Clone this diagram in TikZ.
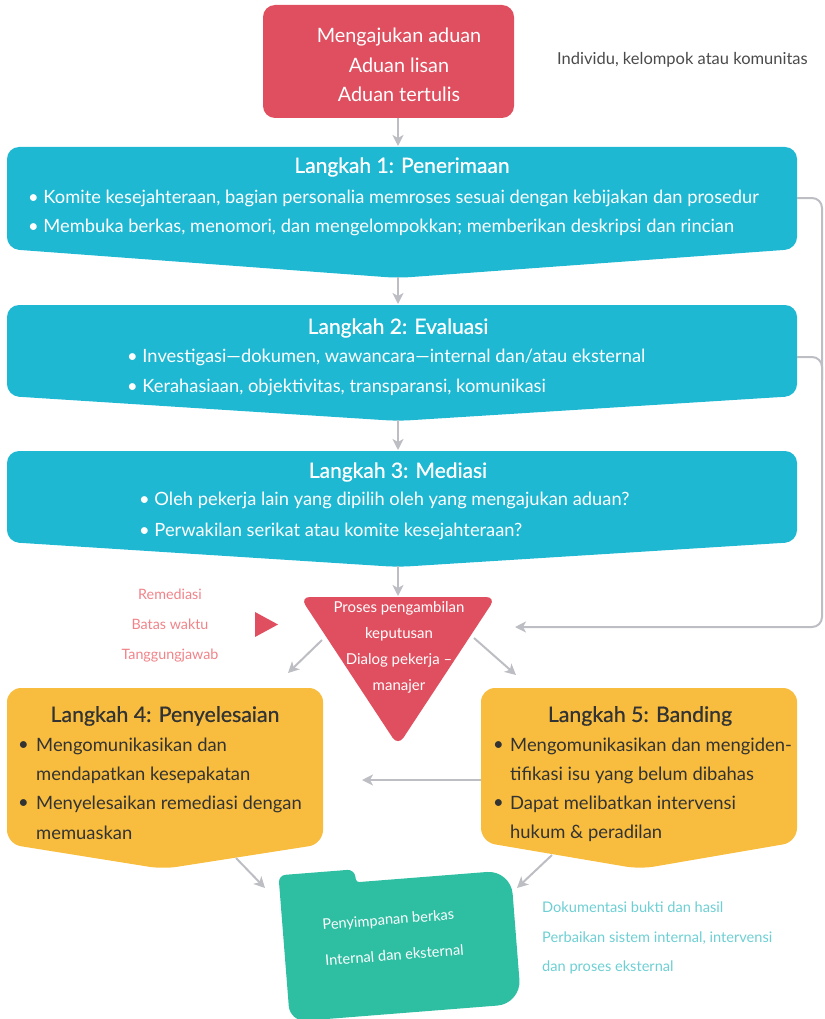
\documentclass[tikz,border=0pt]{standalone}
\usepackage{fontspec}
\setmainfont{Lato}
\newfontfamily\titlefont[FakeBold=0.7]{Lato}
\usetikzlibrary{arrows.meta}
\definecolor{cred}{HTML}{E04F5F}
\definecolor{cblue}{HTML}{1EB8D3}
\definecolor{cyellow}{HTML}{F8BD3E}
\definecolor{cgreen}{HTML}{2EBEA2}
\definecolor{cgray}{HTML}{BDBEC3}
\definecolor{cpink}{HTML}{F08389}
\definecolor{ccyan}{HTML}{6DCFD3}
\definecolor{cdark}{HTML}{333333}
\definecolor{cnote}{HTML}{4A4A4A}
\tikzset{
  flow/.style={draw=cgray, line width=2pt, -{Stealth[length=11pt,width=11pt,inset=3pt]}},
  link/.style={draw=cgray, line width=2pt},
  wtitle/.style={text=white, font=\titlefont\fontsize{21}{24}\selectfont, inner sep=0pt},
  wbul/.style={text=white, font=\fontsize{18.3}{21}\selectfont, inner sep=0pt, anchor=west},
  dtitle/.style={text=cdark, font=\titlefont\fontsize{21.3}{24}\selectfont, inner sep=0pt},
  dbul/.style={text=cdark, font=\fontsize{18.4}{21}\selectfont, inner sep=0pt, anchor=west},
  small/.style={inner sep=0pt, font=\fontsize{14}{16}\selectfont},
}
\begin{document}
\begin{tikzpicture}[x=1pt,y=-1pt]
\useasboundingbox (0,0) rectangle (824,1019);

% top red box
\fill[cred, rounded corners=12pt] (263,5) rectangle (514,118);
\node[text=white, inner sep=0pt, align=center, font=\fontsize{19.8}{29.5}\selectfont] (top) at (399,65) {Mengajukan aduan\\Aduan lisan\\Aduan tertulis};
\coordinate (topb) at (398,118);
\node[small, text=cnote, anchor=west, font=\fontsize{16.5}{18}\selectfont] (who) at (557,60) {Individu, kelompok atau komunitas};

% Step 1
\fill[cblue, rounded corners=12pt] (400,147) -- (797,147) -- (797,249) -- (398,278) -- (7,249) -- (7,147) -- cycle;
\coordinate (b1top) at (398,146);
\coordinate (b1tip) at (398,277);
\coordinate (b1r) at (797,198);
\node[wtitle] (b1t) at (402,167) {Langkah 1: Penerimaan};
\node[wbul] (b1a) at (28,198) {• Komite kesejahteraan, bagian personalia memroses sesuai dengan kebijakan dan prosedur};
\node[wbul] (b1b) at (28,227) {• Membuka berkas, menomori, dan mengelompokkan; memberikan deskripsi dan rincian};

% Step 2
\fill[cblue, rounded corners=12pt] (400,305) -- (797,305) -- (797,396) -- (398,421) -- (7,396) -- (7,305) -- cycle;
\coordinate (b2top) at (398,304);
\coordinate (b2tip) at (398,420);
\coordinate (b2r) at (797,357);
\node[wtitle] (b2t) at (398,328) {Langkah 2: Evaluasi};
\node[wbul] (b2a) at (127,357) {• Investigasi—dokumen, wawancara—internal dan/atau eksternal};
\node[wbul] (b2b) at (127,387) {• Kerahasiaan, objektivitas, transparansi, komunikasi};

% Step 3
\fill[cblue, rounded corners=12pt] (400,451) -- (797,451) -- (797,542) -- (398,567) -- (7,542) -- (7,451) -- cycle;
\coordinate (b3top) at (398,450);
\coordinate (b3tip) at (398,566);
\node[wtitle] (b3t) at (398,472) {Langkah 3: Mediasi};
\node[wbul] (b3a) at (139,500) {• Oleh pekerja lain yang dipilih oleh yang mengajukan aduan?};
\node[wbul] (b3b) at (139,531) {• Perwakilan serikat atau komite kesejahteraan?};

% decision triangle
\fill[cred, rounded corners=10pt] (398,597) -- (496,597) -- (398,746) -- (300,597) -- cycle;
\coordinate (tritop) at (398,596);
\coordinate (triin) at (515,627);
\coordinate (trileft) at (322,640);
\coordinate (triright) at (474,638);
\node[small, text=white, align=center, font=\fontsize{15}{26}\selectfont] (tri) at (399,647) {Proses pengambilan\\keputusan\\Dialog pekerja –\\manajer};

% left notes
\node[small, text=cpink, align=center, font=\fontsize{14.3}{30}\selectfont] (notes) at (170,626) {Remediasi\\Batas waktu\\Tanggungjawab};
\fill[cred] (255,612) -- (278,624.5) -- (255,637) -- cycle;

% Step 4
\fill[cyellow, rounded corners=14pt] (165,688) -- (323,688) -- (323,844) -- (163,869) -- (7,844) -- (7,688) -- cycle;
\coordinate (b4top) at (288,673);
\coordinate (b4in) at (362,780);
\coordinate (b4out) at (236,858);
\node[dtitle] (b4t) at (165,716) {Langkah 4: Penyelesaian};
\node[dbul] (b4a) at (18,746) {•};
\node[dbul] (b4a1) at (36,746) {Mengomunikasikan dan};
\node[dbul] (b4a2) at (36,775) {mendapatkan kesepakatan};
\node[dbul] (b4b) at (18,804) {•};
\node[dbul] (b4b1) at (36,804) {Menyelesaikan remediasi dengan};
\node[dbul] (b4b2) at (36,833) {memuaskan};

% Step 5
\fill[cyellow, rounded corners=14pt] (640,688) -- (797,688) -- (797,842) -- (640,869) -- (481,842) -- (481,688) -- cycle;
\coordinate (b5top) at (516,675);
\coordinate (b5l) at (481,780);
\coordinate (b5out) at (552,855);
\node[dtitle] (b5t) at (640,716) {Langkah 5: Banding};
\node[dbul] (b5a) at (493,746) {•};
\node[dbul] (b5a1) at (510,746) {Mengomunikasikan dan mengiden-};
\node[dbul] (b5a2) at (510,775) {tifikasi isu yang belum dibahas};
\node[dbul] (b5b) at (493,804) {•};
\node[dbul] (b5b1) at (510,804) {Dapat melibatkan intervensi};
\node[dbul] (b5b2) at (510,833) {hukum \& peradilan};

% folder
\begin{scope}[shift={(400,941)}, rotate=4.5]
  \fill[cgreen] (10,-62) [rounded corners=24pt] -- (116,-62) -- (116,72) [rounded corners=16pt] -- (-116,72) [rounded corners=7pt] -- (-116,-75) -- (-40,-75) [rounded corners=3pt] -- (-39,-62) -- cycle;
\end{scope}
\coordinate (foldl) at (265,888);
\coordinate (foldr) at (517,888);
\node[small, text=white, align=left, rotate=4.5, font=\fontsize{14.6}{36}\selectfont] (folder) at (393,937) {Penyimpanan berkas\\Internal dan eksternal};

% right notes
\node[small, text=ccyan, align=left, anchor=north west, font=\fontsize{14.6}{29.5}\selectfont] (docs) at (542,902) {Dokumentasi bukti dan hasil\\Perbaikan sistem internal, intervensi\\dan proses eksternal};

% connectors
\draw[flow] (topb) -- (b1top);
\draw[flow] (b1tip) -- (b2top);
\draw[flow] (b2tip) -- (b3top);
\draw[flow] (b3tip) -- (tritop);
\draw[flow, rounded corners=10pt] (b1r) -- (822,198) -- (822,627) -- (triin);
\draw[link, rounded corners=10pt] (b2r) -- (822,357) -- (822,380);
\draw[flow] (trileft) -- (b4top);
\draw[flow] (triright) -- (b5top);
\draw[flow] (b5l) -- (b4in);
\draw[flow] (b4out) -- (foldl);
\draw[flow] (b5out) -- (foldr);
\end{tikzpicture}
\end{document}
